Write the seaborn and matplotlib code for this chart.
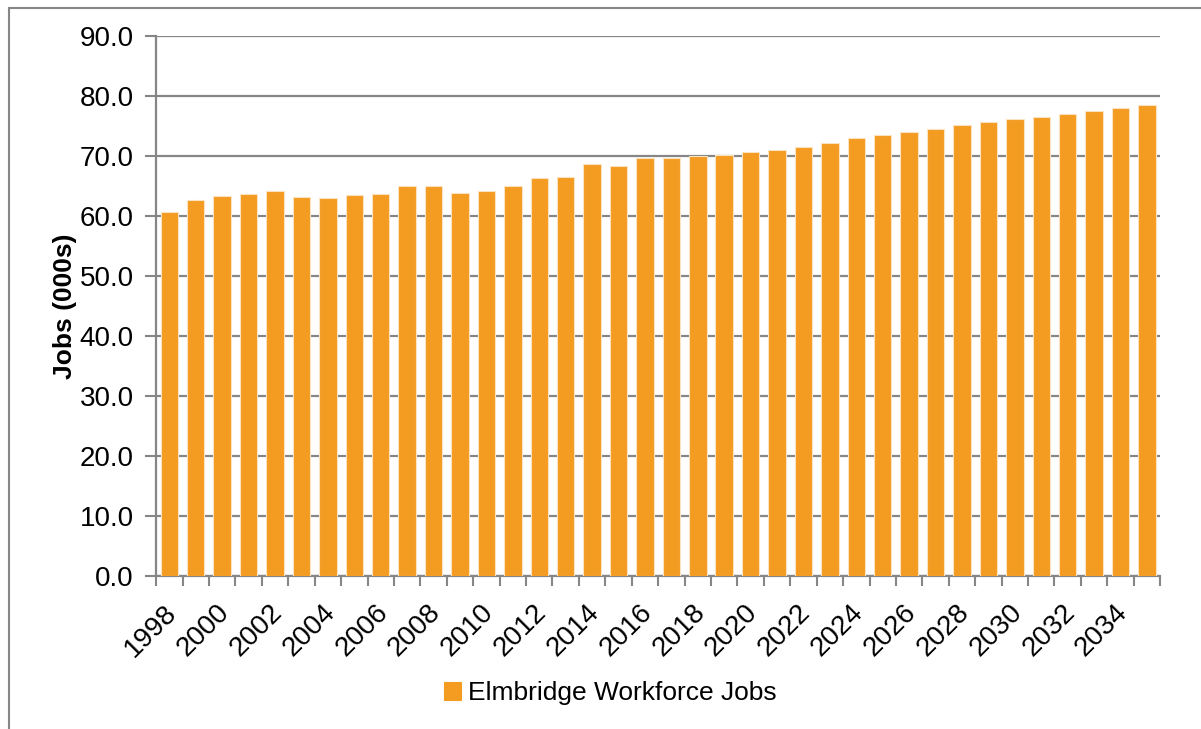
import numpy as np
import pandas as pd
import seaborn as sns
import matplotlib.pyplot as plt
import matplotlib.transforms as mtransforms
from matplotlib.patches import Rectangle

# data
years = list(range(1998, 2036))
jobs = [60.6, 62.7, 63.3, 63.7, 64.1, 63.1, 63.0, 63.4, 63.6, 64.9,
        65.0, 63.8, 64.2, 65.0, 66.3, 66.4, 68.7, 68.3, 69.6, 69.7,
        69.9, 70.2, 70.6, 71.0, 71.5, 72.2, 72.9, 73.4, 74.0, 74.5,
        75.1, 75.6, 76.1, 76.5, 77.0, 77.4, 77.9, 78.4]
series_name = "Elmbridge Workforce Jobs"

df = pd.DataFrame({"year": [str(y) for y in years], "jobs": jobs})

sns.set_style("white")
plt.rcParams['font.family'] = ['Liberation Sans', 'DejaVu Sans']
plt.rcParams['text.color'] = 'black'
plt.rcParams['axes.labelcolor'] = 'black'

grey = "#868686"
orange = "#F49B22"

fig = plt.figure(figsize=(12.01, 7.29), dpi=100)
ax = fig.add_axes([0.130, 0.210, 0.836, 0.741])

# outer chart frame
fig.patches.append(Rectangle((9 / 1201, -0.05), 1.2, 1 - 8 / 729 + 0.05,
                             transform=fig.transFigure, fill=False,
                             edgecolor=grey, linewidth=1.5))

sns.barplot(data=df, x="year", y="jobs", color=orange, saturation=1,
            width=0.66, edgecolor="#FCE3C0", linewidth=0.8,
            label=series_name, ax=ax, zorder=3)

ax.set_ylim(0, 90)
ax.set_xlim(-0.5, len(years) - 0.5)
ax.set_yticks(np.arange(0, 91, 10))
ax.set_yticklabels([f"{v:.1f}" for v in np.arange(0, 91, 10)], fontsize=20)
ax.yaxis.grid(True, color=grey, linewidth=1.6, zorder=0)
ax.set_axisbelow(True)

# labels on every other year, tick marks on category boundaries
ax.set_xticks(range(0, len(years), 2))
ax.set_xticklabels([str(y) for y in years[::2]], rotation=45, ha="right",
                   rotation_mode="anchor", fontsize=20)
ax.set_xticks(np.arange(-0.5, len(years), 1), minor=True)
ax.tick_params(axis="x", which="major", length=0, pad=17, labelcolor="black")
ax.tick_params(axis="x", which="minor", length=7, width=1.5, color=grey,
               direction="out", bottom=True)
ax.tick_params(axis="y", length=8, width=1.5, color=grey, left=True,
               direction="out", pad=8, labelcolor="black")

shift = mtransforms.ScaledTranslation(-6 / 100, 0, fig.dpi_scale_trans)
for lbl in ax.get_xticklabels():
    lbl.set_transform(lbl.get_transform() + shift)

for s in ["top", "right"]:
    ax.spines[s].set_visible(False)
for s in ["left", "bottom"]:
    ax.spines[s].set_color(grey)
    ax.spines[s].set_linewidth(1.6)

ax.set_xlabel("")
ax.set_ylabel("Jobs (000s)", fontsize=19, fontweight="bold", labelpad=2)

leg = ax.legend(loc="center", bbox_to_anchor=(610 / 1201, 1 - 693 / 729),
                bbox_transform=fig.transFigure, frameon=False,
                fontsize=19, handlelength=0.65, handleheight=0.65,
                handletextpad=0.25)
for h in leg.legend_handles:
    h.set_edgecolor(orange)

fig.savefig("out.png", dpi=100)
